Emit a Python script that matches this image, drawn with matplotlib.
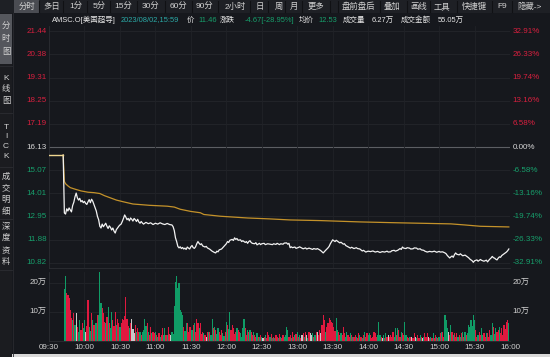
import matplotlib
matplotlib.use('Agg')
import matplotlib.pyplot as plt
from matplotlib.patches import Rectangle
from matplotlib.lines import Line2D
import matplotlib.transforms as mtransforms

plt.rcParams['font.family'] = ['Liberation Sans', 'Noto Sans CJK SC', 'DejaVu Sans']

# ---- data (minutes after 09:30) ----
price_minutes = [0, 12, 13, 14, 15, 16, 17, 18, 19, 20, 21, 22, 23, 24, 25, 26, 27, 28, 29, 30, 31, 32, 33, 34,
                 35, 36, 37, 38, 39, 40, 41, 42, 43, 44, 45, 46, 47, 48, 49, 50, 51, 52, 53, 54, 55, 56, 57, 58,
                 59, 60, 61, 62, 63, 64, 65, 66, 67, 68, 69, 70, 71, 72, 73, 74, 75, 76, 77, 78, 79, 80, 82, 84,
                 86, 88, 90, 92, 94, 96, 98, 100, 102, 104, 105, 106, 107, 108, 109, 110, 111, 112, 113, 114,
                 115, 116, 117, 118, 119, 120, 121, 122, 123, 124, 125, 126, 127, 128, 129, 130, 132, 133, 134,
                 136, 138, 140, 141, 142, 143, 144, 146, 147, 148, 150, 151, 152, 153, 155, 156, 157, 158, 159,
                 160, 162, 163, 164, 166, 167, 168, 169, 170, 171, 172, 174, 175, 176, 178, 179, 180, 182, 183,
                 185, 187, 189, 190, 192, 193, 195, 196, 198, 199, 201, 202, 203, 204, 205, 206, 208, 209, 211,
                 212, 214, 215, 217, 218, 220, 221, 223, 224, 226, 227, 229, 230, 232, 233, 234, 236, 237, 238,
                 240, 241, 242, 243, 244, 246, 247, 249, 250, 251, 253, 255, 256, 258, 260, 261, 263, 265, 266,
                 268, 270, 272, 274, 276, 278, 280, 282, 284, 286, 287, 289, 290, 292, 293, 295, 296, 297, 298,
                 299, 300, 302, 303, 305, 306, 308, 309, 311, 312, 314, 315, 317, 318, 320, 322, 324, 326, 328,
                 330, 331, 333, 335, 336, 337, 339, 340, 341, 342, 343, 344, 345, 347, 348, 350, 352, 354, 355,
                 356, 358, 359, 360, 362, 363, 365, 366, 368, 370, 371, 372, 373, 374, 375, 376, 377, 378, 379,
                 380, 381, 382, 383, 384, 386, 387, 388, 389]
price_values = [15.76, 15.76, 13.11, 13.06, 13.30, 13.20, 13.34, 13.25, 13.16, 13.45, 13.60, 13.85, 14.02, 13.80,
                13.70, 13.78, 13.62, 13.68, 13.58, 13.64, 13.55, 13.50, 13.62, 13.72, 13.58, 13.74, 13.65, 13.50,
                13.34, 13.20, 12.95, 12.80, 12.50, 12.42, 12.60, 12.48, 12.56, 12.64, 12.50, 12.40, 12.52, 12.45,
                12.33, 12.42, 12.28, 12.19, 12.35, 12.42, 12.50, 12.56, 12.60, 12.72, 12.86, 13.02, 12.92, 12.80,
                12.86, 12.75, 12.88, 12.82, 12.74, 12.86, 12.80, 12.72, 12.82, 12.70, 12.64, 12.72, 12.65, 12.60,
                12.68, 12.62, 12.66, 12.58, 12.64, 12.60, 12.66, 12.61, 12.58, 12.63, 12.58, 12.56, 12.48, 12.30,
                11.97, 11.80, 11.58, 11.51, 11.56, 11.48, 11.53, 11.46, 11.50, 11.44, 11.55, 11.50, 11.46, 11.56,
                11.62, 11.52, 11.49, 11.56, 11.70, 11.80, 11.72, 11.66, 11.70, 11.60, 11.55, 11.58, 11.51, 11.45,
                11.36, 11.30, 11.28, 11.36, 11.33, 11.42, 11.46, 11.52, 11.58, 11.70, 11.80, 11.76, 11.86, 11.90,
                11.85, 11.97, 11.90, 11.94, 11.86, 11.88, 11.80, 11.84, 11.76, 11.80, 11.72, 11.80, 11.84, 11.76,
                11.72, 11.70, 11.75, 11.65, 11.72, 11.66, 11.70, 11.72, 11.66, 11.70, 11.68, 11.66, 11.70, 11.67,
                11.72, 11.66, 11.70, 11.68, 11.73, 11.74, 11.68, 11.72, 11.52, 11.56, 11.52, 11.55, 11.49, 11.53,
                11.56, 11.50, 11.47, 11.51, 11.46, 11.50, 11.48, 11.44, 11.48, 11.45, 11.48, 11.42, 11.38, 11.28,
                11.34, 11.40, 11.51, 11.58, 11.70, 11.88, 11.84, 11.80, 11.86, 11.82, 11.74, 11.77, 11.68, 11.70,
                11.62, 11.56, 11.50, 11.54, 11.48, 11.52, 11.48, 11.46, 11.37, 11.40, 11.32, 11.36, 11.34, 11.37,
                11.32, 11.35, 11.30, 11.34, 11.32, 11.36, 11.32, 11.33, 11.38, 11.40, 11.36, 11.40, 11.44, 11.48,
                11.44, 11.55, 11.50, 11.48, 11.52, 11.50, 11.46, 11.47, 11.51, 11.50, 11.45, 11.47, 11.42, 11.40,
                11.36, 11.32, 11.35, 11.33, 11.36, 11.31, 11.35, 11.32, 11.33, 11.28, 11.24, 11.16, 11.05, 11.10,
                11.14, 11.08, 11.20, 11.28, 11.22, 11.19, 11.24, 11.15, 11.18, 11.10, 11.06, 11.00, 10.92, 10.85,
                10.92, 10.96, 10.90, 10.98, 10.94, 10.90, 10.95, 10.87, 10.94, 11.00, 11.05, 11.12, 11.06, 11.04,
                10.99, 10.96, 11.04, 11.10, 11.08, 11.16, 11.20, 11.28, 11.32, 11.38, 11.46]

avg_minutes = [0, 12, 13, 14, 16, 18, 22, 27, 33, 38, 43, 47, 50, 54, 57, 63, 71, 85, 100, 106, 111, 120,
               128, 131, 145, 168, 186, 204, 230, 263, 295, 340, 352, 365, 389]
avg_values = [15.76, 15.76, 14.55, 14.45, 14.35, 14.27, 14.20, 14.12, 14.06, 14.04, 14.00, 13.90, 13.84, 13.76,
              13.70, 13.62, 13.52, 13.46, 13.42, 13.38, 13.28, 13.18, 13.12, 13.04, 12.96, 12.88, 12.84, 12.79,
              12.76, 12.70, 12.66, 12.61, 12.56, 12.50, 12.47]

# volume per minute (万股), 09:43 .. 15:59
vol_start = 13
volumes = [17.7, 22.3, 16.3, 15.8, 14.6, 10.6, 7.8,
           7.2, 9.5, 5.5, 9.7, 4.9, 3.2, 7.2, 3.8, 6.0, 4.5,
           7.2, 3.2, 5.0, 14.0, 4.9, 3.5, 9.5, 7.2, 5.5, 6.0,
           6.0, 8.9, 9.0, 24.3, 12.9, 11.2, 9.5, 6.5, 6.0, 8.3,
           11.8, 6.0, 4.5, 10.0, 7.2, 5.0, 10.0, 5.5, 7.5, 6.0,
           4.9, 6.0, 7.7, 7.2, 8.5, 15.2, 7.7, 5.0, 4.3, 6.0,
           7.7, 4.0, 2.6, 5.5, 3.2, 4.5, 3.2, 3.2, 2.0, 3.0,
           3.8, 7.4, 5.0, 6.0, 3.2, 2.2, 4.9, 2.6, 3.2, 2.6,
           3.2, 2.0, 1.5, 2.6, 1.5, 2.0, 4.3, 2.0, 4.3, 2.0,
           2.0, 4.9, 2.5, 2.0, 3.2, 2.5, 12.0, 20.3, 22.3, 18.0,
           19.8, 10.6, 10.0, 8.9, 4.9, 3.5, 6.0, 6.0, 3.0, 4.9,
           4.9, 3.8, 5.5, 6.0, 3.0, 7.7, 6.0, 4.3, 6.0, 2.5,
           3.2, 2.6, 2.0, 1.5, 3.2, 3.2, 3.2, 2.0, 7.4, 4.3,
           4.9, 3.8, 2.5, 4.3, 3.2, 2.0, 3.8, 2.6, 1.8, 3.0,
           6.6, 5.5, 4.0, 10.0, 3.8, 5.5, 4.3, 2.5, 3.2, 4.3,
           3.8, 3.2, 2.6, 1.5, 4.3, 7.4, 4.3, 2.0, 3.8, 3.2,
           3.8, 3.2, 2.0, 3.2, 2.0, 1.5, 2.6, 1.5, 1.5, 2.0,
           1.5, 0.9, 1.5, 2.0, 1.0, 3.2, 2.0, 1.5, 2.5, 1.0,
           1.5, 1.0, 2.0, 1.5, 1.0, 2.5, 1.5, 1.0, 2.0, 1.5,
           2.0, 4.9, 3.8, 1.5, 2.0, 1.0, 3.2, 1.5, 2.0, 2.5,
           3.2, 1.5, 2.0, 1.0, 2.0, 2.6, 1.5, 3.0, 2.0, 1.0,
           3.2, 2.6, 2.0, 2.6, 1.5, 2.0, 3.0, 3.2, 2.0, 3.8,
           2.6, 5.5, 8.9, 7.2, 3.2, 4.9, 6.0, 7.8, 7.2, 6.5,
           6.0, 4.9, 3.5, 7.8, 3.8, 3.2, 2.0, 2.6, 2.0, 4.9,
           2.6, 1.5, 3.2, 2.0, 1.5, 2.6, 2.0, 1.5, 1.5, 2.0,
           1.5, 1.0, 2.6, 2.0, 1.5, 1.0, 2.0, 3.2, 1.5, 2.6,
           2.0, 2.6, 2.0, 1.0, 1.5, 3.2, 2.6, 1.5, 2.0, 6.6,
           2.0, 1.5, 1.0, 2.0, 1.0, 2.6, 1.5, 2.0, 1.5, 2.0,
           1.5, 3.2, 1.5, 4.3, 2.0, 4.3, 3.8, 1.5, 3.2, 2.6,
           2.0, 6.6, 2.0, 1.5, 1.0, 1.5, 1.5, 1.5, 1.0, 2.6,
           1.5, 1.0, 2.0, 1.0, 2.0, 1.5, 1.0, 1.5, 2.6, 1.5,
           2.6, 1.5, 1.0, 1.5, 1.0, 2.6, 1.0, 2.0, 1.5, 1.0,
           1.5, 2.6, 3.2, 3.2, 1.5, 8.9, 7.2, 4.3, 3.2, 2.0,
           5.5, 3.2, 2.0, 2.6, 1.5, 2.6, 1.5, 2.0, 1.5, 2.6,
           3.2, 1.5, 3.2, 2.0, 2.6, 5.5, 4.9, 7.2, 5.0, 8.9,
           7.2, 3.8, 1.5, 2.0, 3.2, 2.0, 4.3, 2.0, 2.6, 1.5,
           2.6, 2.6, 1.5, 3.8, 2.0, 6.0, 4.9, 2.5, 4.3, 3.0,
           3.8, 4.9, 2.6, 4.3, 2.0, 5.5, 4.0, 6.6, 7.2, 6.0]
# r = up, g = down, w = flat
vol_colors = ("ggrrrrr" "grgwrggrrg" "gwrrggrgrg" "grgggrrrgr" "grggrrrgrr" "grrrrrrrgr"
              "wwwrgrrgrg" "gggrgrrgrr" "grgrgrrggr" "grrwgggggg" "ggggrggrrr" "rgrgrrrgrr"
              "rgrwrgrggr" "grggrrrggr" "grggrrrrrg" "rrggggrrgr" "grrgrrgrgr" "gwrgrrrgrg"
              "rgrrgrgrrg" "gggrrgrrgr" "grgrwrgrwg" "rwwgrgrwrr" "wrrrgrrrrr" "rrrggrrgrr"
              "rggrrgrgrr" "grrgrgrgrr" "ggrrrrrrgg" "grwgrgrwrr" "rrggrgrrgr" "rggrrgrwrr"
              "wgrrgrwgrr" "rwrgrgrrgr" "grgrrgggwr" "grgrrrgrgr" "grgrgggggg" "grrgrrggrr"
              "grrrggrggr" "rgrrrrrrrg")

price_levels = [21.44, 20.38, 19.31, 18.25, 17.19, 16.13, 15.07, 14.01, 12.95, 11.88, 10.82]
pct_labels = ['32.91%', '26.33%', '19.74%', '13.16%', '6.58%', '0.00%',
              '-6.58%', '-13.16%', '-19.74%', '-26.33%', '-32.91%']
prev_close = 16.13
time_labels = ['09:30', '10:00', '10:30', '11:00', '11:30', '12:00', '12:30', '13:00',
               '13:30', '14:00', '14:30', '15:00', '15:30', '16:00']
vol_levels = [10, 20]
vol_level_labels = ['10万', '20万']

toolbar_left = ['分时', '多日', '1分', '5分', '15分', '30分', '60分', '90分', '2小时', '日', '周', '月', '更多']
toolbar_right = ['盘前盘后', '叠加', '画线', '工具', '快捷键', 'F9', '隐藏->']
sidebar_groups = ['分时图', 'K线图', 'TICK', '成交明细', '深度资料']

# ---- colours ----
BG = '#16181d'
BAR_BG = '#1e2025'
TXT = '#d2d2d2'
RED = '#e0193f'
GREEN = '#109c66'
LBL_RED = '#d8203f'
LBL_GREEN = '#17a06c'
GRID = '#24262b'
WHITE_LINE = '#f2f2f2'
AVG_LINE = '#c4922a'

W, H = 550, 357
fig = plt.figure(figsize=(W / 100, H / 100), dpi=100, facecolor=BG)


def fx(x):
    return x / W


def fy(y):
    return 1 - y / H


def px_rect(x0, y0, x1, y1, color, z=0):
    fig.patches.append(Rectangle((fx(x0), fy(y1)), fx(x1) - fx(x0), fy(y0) - fy(y1),
                                 transform=fig.transFigure, facecolor=color, edgecolor='none', zorder=z))


def px_line(x0, y0, x1, y1, color, lw=0.6):
    fig.add_artist(Line2D([fx(x0), fx(x1)], [fy(y0), fy(y1)], transform=fig.transFigure,
                          color=color, lw=lw))


# toolbar
px_rect(0, 0, W, 13, BAR_BG)
px_rect(14, 0, 39, 13, '#4a4c52')
left_x = [27, 52, 76, 99, 123, 151, 178, 205, 235, 260, 279, 294, 316]
right_x = [358, 392, 419, 442, 474, 502, 530]
for lab, x in zip(toolbar_left + toolbar_right, left_x + right_x):
    fig.text(fx(x), fy(7), lab, color=TXT, fontsize=6, ha='center', va='center')
for x in [39, 63, 87, 110, 137, 165, 192, 218, 250, 268, 285, 302, 330, 338, 380, 407, 430, 457, 492, 512]:
    px_line(x, 1, x, 12, '#101114', lw=0.8)

# sidebar
px_rect(0, 13, 12, H, '#1b1c20')
px_rect(0, 14, 12, 64, '#55575d')
side_y = [[27, 39, 52], [78, 89, 101], [127, 137, 147, 157], [177, 188, 200, 212], [227, 238, 251, 262]]
for grp, ys in zip(sidebar_groups, side_y):
    for ch, y in zip(grp, ys):
        fig.text(fx(6), fy(y), ch, color=TXT, fontsize=6, ha='center', va='center')
for y in [66, 113, 167, 219, 270]:
    px_line(0, y, 12, y, '#2c2d32', lw=0.6)
px_line(12.5, 13, 12.5, H, '#2a2b30', lw=0.6)

# info line
info = [('AMSC.O[美国超导]', 52, '#e6e6e6'), ('2023/08/02,15:59', 121, '#2ba9a6'), ('价', 187, '#e6e6e6'),
        ('11.46', 198, LBL_GREEN), ('涨跌', 220, '#e6e6e6'), ('-4.67[-28.95%]', 245, LBL_GREEN),
        ('均价', 299, '#e6e6e6'), ('12.53', 318, LBL_GREEN), ('成交量', 343, '#e6e6e6'),
        ('6.27万', 372, '#e6e6e6'), ('成交金额', 401, '#e6e6e6'), ('55.05万', 438, '#e6e6e6')]
for s, x, c in info:
    fig.text(fx(x), fy(20), s, color=c, fontsize=5.4, ha='left', va='center')

# bottom strip
px_rect(12, 354, W, H, '#d8d8d8')

# ---- price panel ----
x_left, x_right = 49, 510
ax = fig.add_axes([fx(x_left), fy(268), fx(x_right) - fx(x_left), fy(26) - fy(268)])
ax.set_facecolor(BG)
ax.set_xlim(0, 390)
ax.set_ylim(10.59, 21.67)
for lvl in price_levels:
    if lvl == prev_close:
        ax.axhline(lvl, color='#5c5e63', lw=0.8, zorder=1)
    else:
        ax.axhline(lvl, color=GRID, lw=0.6, zorder=1)
for m in range(30, 390, 30):
    ax.axvline(m, color='#202227', lw=0.6, zorder=1)
ax.set_xticks([])
ax.set_yticks([])
for side in ['top', 'right']:
    ax.spines[side].set_visible(False)
ax.spines['left'].set_color('#2c2e33')
ax.spines['bottom'].set_color('#2c2e33')
ax.spines['left'].set_linewidth(0.6)
ax.spines['bottom'].set_linewidth(0.6)

n_pre = 2  # first two points are the flat pre-trade segment
ax.plot(price_minutes[n_pre - 1:], price_values[n_pre - 1:], color=WHITE_LINE, lw=0.9, zorder=3)
ax.plot(avg_minutes[n_pre - 1:], avg_values[n_pre - 1:], color=AVG_LINE, lw=0.9, zorder=2)
ax.plot(price_minutes[:n_pre], price_values[:n_pre], color='#efd590', lw=1.0, zorder=4)

trans = mtransforms.blended_transform_factory(ax.transAxes, ax.transData)
for lvl, pct in zip(price_levels, pct_labels):
    if lvl > prev_close:
        c = LBL_RED
    elif lvl < prev_close:
        c = LBL_GREEN
    else:
        c = '#d8d8d8'
    ax.text(-0.005, lvl, f'{lvl:.2f}', transform=trans, color=c, fontsize=5.8, ha='right', va='center')
    ax.text(1.006, lvl, pct, transform=trans, color=c, fontsize=5.8, ha='left', va='center')

# ---- volume panel ----
vax = fig.add_axes([fx(x_left), fy(341), fx(x_right) - fx(x_left), fy(272) - fy(341)])
vax.set_facecolor(BG)
vax.set_xlim(0, 390)
vax.set_ylim(0, 23.65)
for lvl in vol_levels:
    vax.axhline(lvl, color=GRID, lw=0.6, zorder=1)
for m in range(30, 390, 30):
    vax.axvline(m, color='#202227', lw=0.6, zorder=1)
cmap = {'r': RED, 'g': GREEN, 'w': '#c8c8c8'}
vol_x = [vol_start + i for i in range(len(volumes))]
vax.bar(vol_x, volumes, width=1.0, color=[cmap[c] for c in vol_colors], linewidth=0, zorder=2)

vtrans = mtransforms.blended_transform_factory(vax.transAxes, vax.transData)
for lvl, lab in zip(vol_levels, vol_level_labels):
    vax.text(-0.005, lvl, lab, transform=vtrans, color=TXT, fontsize=5.8, ha='right', va='center')
    vax.text(1.006, lvl, lab, transform=vtrans, color=TXT, fontsize=5.8, ha='left', va='center')

vax.set_yticks([])
vax.set_xticks(range(0, 391, 30))
vax.set_xticklabels(time_labels)
vax.tick_params(axis='x', length=0, pad=2.2, labelsize=5.8, labelcolor=TXT)
for side in ['top', 'right']:
    vax.spines[side].set_visible(False)
vax.spines['left'].set_color('#2c2e33')
vax.spines['bottom'].set_color('#2c2e33')
vax.spines['left'].set_linewidth(0.6)
vax.spines['bottom'].set_linewidth(0.6)

fig.savefig('out.png', dpi=100, facecolor=BG)
